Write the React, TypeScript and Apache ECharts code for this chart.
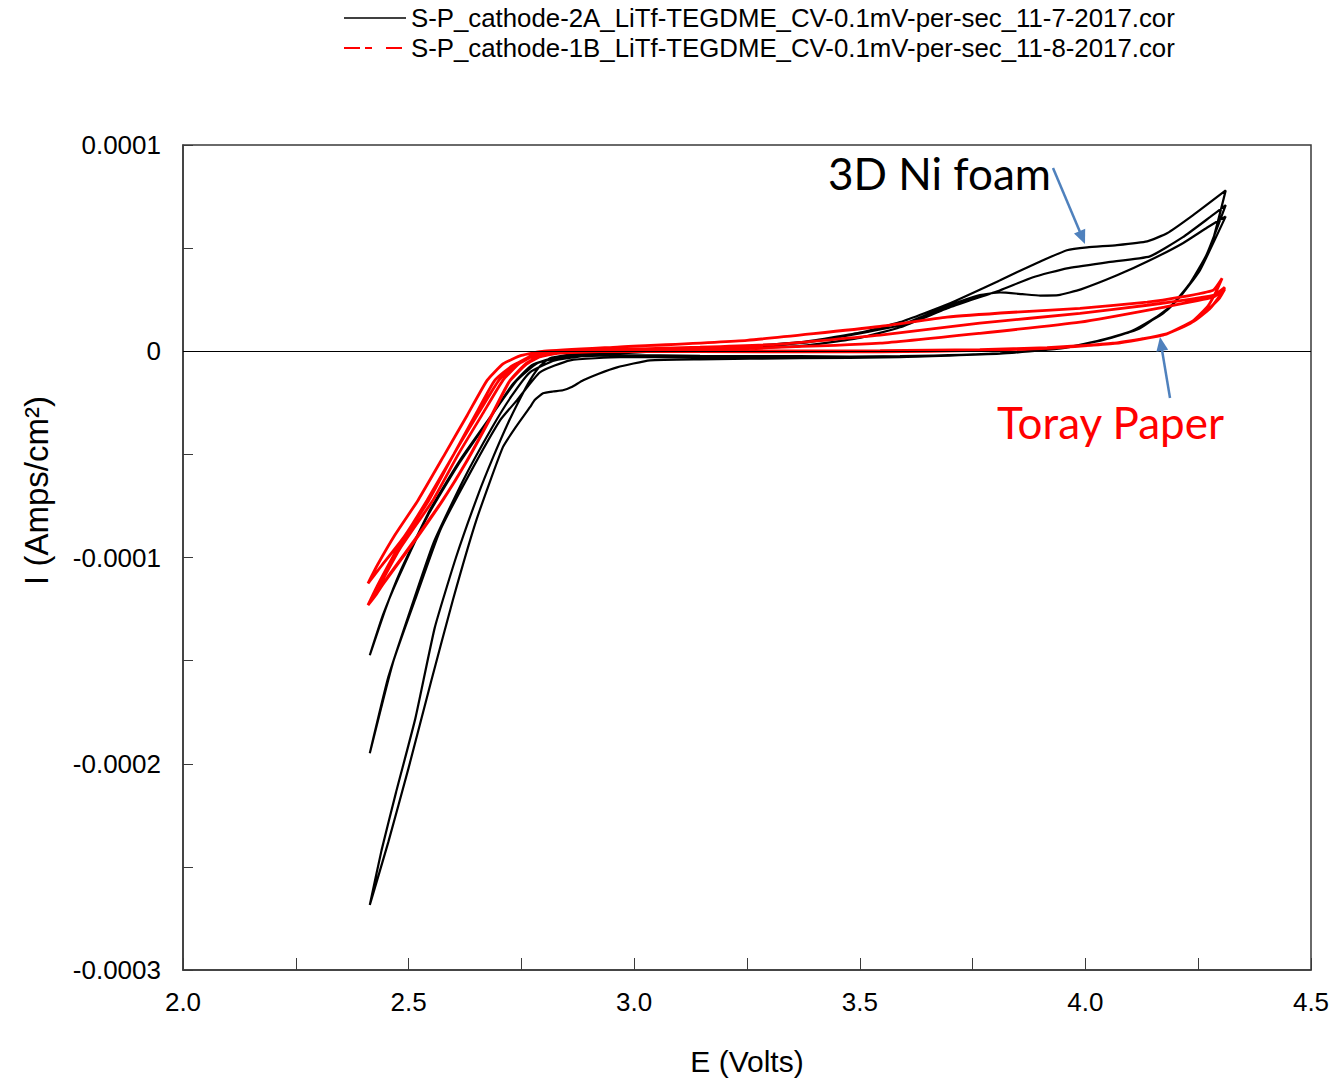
import React, { useEffect, useRef } from 'react';
import * as echarts from 'echarts';

// Axis ticks
const X_MIN = 2.0;
const X_MAX = 4.5;
const X_TICK = 0.25;
const Y_MIN = -0.0003;
const Y_MAX = 0.0001;
const Y_TICK = 0.00005;

const SERIES_NI = 'S-P_cathode-2A_LiTf-TEGDME_CV-0.1mV-per-sec_11-7-2017.cor';
const SERIES_TORAY = 'S-P_cathode-1B_LiTf-TEGDME_CV-0.1mV-per-sec_11-8-2017.cor';

// ---- 3D Ni foam (black) : [E (V), I (A/cm2)] ----
const niCycle1Cathodic = [
  [4.311, 0.654e-4], [4.254, 0.393e-4], [4.216, 0.281e-4], [4.181, 0.199e-4], [4.106, 0.102e-4],
  [4.032, 0.053e-4], [3.959, 0.019e-4], [3.811, -0.010e-4], [3.589, -0.029e-4], [3.367, -0.034e-4],
  [3.146, -0.039e-4], [3.035, -0.044e-4], [2.962, -0.078e-4], [2.920, -0.110e-4], [2.887, -0.141e-4],
  [2.860, -0.175e-4], [2.842, -0.189e-4], [2.820, -0.195e-4], [2.798, -0.204e-4], [2.780, -0.235e-4],
  [2.769, -0.271e-4], [2.740, -0.360e-4], [2.709, -0.465e-4], [2.650, -0.820e-4], [2.598, -1.207e-4],
  [2.550, -1.600e-4], [2.500, -2.020e-4], [2.455, -2.380e-4], [2.414, -2.685e-4],
];
const niCycle1Anodic = [
  [2.414, -2.685e-4], [2.440, -2.420e-4], [2.472, -2.140e-4], [2.515, -1.780e-4], [2.558, -1.340e-4],
  [2.605, -1.000e-4], [2.655, -0.690e-4], [2.689, -0.505e-4], [2.720, -0.350e-4], [2.747, -0.230e-4],
  [2.769, -0.141e-4], [2.791, -0.073e-4], [2.813, -0.034e-4], [2.880, -0.010e-4], [2.969, 0],
  [3.146, 0.010e-4], [3.367, 0.025e-4], [3.500, 0.065e-4], [3.589, 0.116e-4], [3.700, 0.213e-4],
  [3.811, 0.296e-4], [3.884, 0.359e-4], [3.959, 0.402e-4], [4.048, 0.431e-4], [4.143, 0.460e-4],
  [4.216, 0.553e-4], [4.276, 0.650e-4], [4.311, 0.708e-4],
];
const niCycle2Cathodic = [
  [4.311, 0.708e-4], [4.269, 0.470e-4], [4.232, 0.330e-4], [4.190, 0.220e-4], [4.120, 0.110e-4],
  [4.040, 0.055e-4], [3.959, 0.020e-4], [3.811, -0.010e-4], [3.589, -0.024e-4], [3.367, -0.029e-4],
  [3.146, -0.029e-4], [2.969, -0.029e-4], [2.858, -0.044e-4], [2.791, -0.102e-4], [2.740, -0.238e-4],
  [2.703, -0.334e-4], [2.636, -0.591e-4], [2.570, -0.868e-4], [2.514, -1.207e-4], [2.465, -1.512e-4],
  [2.414, -1.949e-4],
];
const niCycle2Anodic = [
  [2.414, -1.949e-4], [2.455, -1.580e-4], [2.500, -1.280e-4], [2.555, -0.930e-4], [2.620, -0.630e-4],
  [2.685, -0.370e-4], [2.728, -0.218e-4], [2.769, -0.102e-4], [2.824, -0.044e-4], [2.924, -0.015e-4],
  [3.146, 0.010e-4], [3.367, 0.044e-4], [3.500, 0.090e-4], [3.589, 0.141e-4], [3.700, 0.233e-4],
  [3.811, 0.344e-4], [3.848, 0.383e-4], [3.906, 0.441e-4], [3.959, 0.490e-4], [4.004, 0.504e-4],
  [4.070, 0.515e-4], [4.137, 0.533e-4], [4.181, 0.572e-4], [4.238, 0.659e-4], [4.311, 0.780e-4],
];
const niCycle3Cathodic = [
  [4.311, 0.780e-4], [4.280, 0.520e-4], [4.250, 0.380e-4], [4.210, 0.265e-4], [4.170, 0.180e-4],
  [4.100, 0.095e-4], [4.020, 0.045e-4], [3.940, 0.012e-4], [3.811, -0.012e-4], [3.589, -0.027e-4],
  [3.367, -0.024e-4], [3.146, -0.022e-4], [2.969, -0.019e-4], [2.842, -0.029e-4], [2.785, -0.058e-4],
  [2.740, -0.141e-4], [2.687, -0.301e-4], [2.614, -0.528e-4], [2.547, -0.771e-4], [2.481, -1.071e-4],
  [2.448, -1.255e-4], [2.414, -1.474e-4],
];
const niCycle3Anodic = [
  [2.414, -1.474e-4], [2.443, -1.280e-4], [2.477, -1.100e-4], [2.543, -0.795e-4], [2.609, -0.553e-4],
  [2.680, -0.325e-4], [2.729, -0.165e-4], [2.773, -0.068e-4], [2.836, -0.024e-4], [2.969, 0],
  [3.146, 0.012e-4], [3.367, 0.039e-4], [3.500, 0.087e-4], [3.589, 0.126e-4], [3.700, 0.223e-4],
  [3.766, 0.272e-4], [3.811, 0.285e-4], [3.860, 0.277e-4], [3.900, 0.270e-4], [3.940, 0.272e-4],
  [3.990, 0.300e-4], [4.070, 0.368e-4], [4.143, 0.441e-4], [4.216, 0.524e-4], [4.270, 0.600e-4],
  [4.311, 0.654e-4],
];

// ---- Toray paper (red) ----
const torayCycle1Cathodic = [
  [4.309, 0.301e-4], [4.298, 0.260e-4], [4.283, 0.225e-4], [4.269, 0.195e-4], [4.232, 0.134e-4],
  [4.172, 0.078e-4], [4.061, 0.039e-4], [3.915, 0.015e-4], [3.766, 0.005e-4], [3.545, 0.001e-4],
  [3.146, 0], [2.924, -0.002e-4], [2.820, -0.010e-4], [2.770, -0.030e-4], [2.730, -0.070e-4],
  [2.691, -0.141e-4], [2.650, -0.300e-4], [2.600, -0.500e-4], [2.541, -0.722e-4], [2.490, -0.900e-4],
  [2.440, -1.040e-4], [2.410, -1.125e-4],
];
const torayCycle1Anodic = [
  [2.410, -1.125e-4], [2.430, -1.040e-4], [2.470, -0.890e-4], [2.521, -0.722e-4], [2.580, -0.500e-4],
  [2.630, -0.310e-4], [2.674, -0.141e-4], [2.710, -0.060e-4], [2.750, -0.020e-4], [2.800, 0],
  [2.953, 0.019e-4], [3.250, 0.053e-4], [3.545, 0.120e-4], [3.693, 0.165e-4], [3.840, 0.189e-4],
  [3.988, 0.208e-4], [4.137, 0.238e-4], [4.210, 0.262e-4], [4.283, 0.296e-4], [4.303, 0.354e-4],
];
const torayCycle2Cathodic = [
  [4.303, 0.354e-4], [4.290, 0.290e-4], [4.272, 0.220e-4], [4.240, 0.150e-4], [4.180, 0.085e-4],
  [4.070, 0.040e-4], [3.915, 0.018e-4], [3.766, 0.008e-4], [3.545, 0.003e-4], [3.146, 0.001e-4],
  [2.924, 0], [2.830, -0.008e-4], [2.790, -0.025e-4], [2.760, -0.060e-4], [2.725, -0.141e-4],
  [2.680, -0.330e-4], [2.630, -0.530e-4], [2.576, -0.722e-4], [2.520, -0.900e-4], [2.460, -1.080e-4],
  [2.430, -1.170e-4], [2.410, -1.231e-4],
];
const torayCycle2Anodic = [
  [2.410, -1.231e-4], [2.432, -1.150e-4], [2.480, -0.960e-4], [2.554, -0.722e-4], [2.610, -0.500e-4],
  [2.665, -0.300e-4], [2.709, -0.141e-4], [2.745, -0.060e-4], [2.780, -0.020e-4], [2.820, -0.005e-4],
  [2.953, 0.008e-4], [3.146, 0.020e-4], [3.323, 0.035e-4], [3.545, 0.078e-4], [3.766, 0.136e-4],
  [3.988, 0.184e-4], [4.137, 0.223e-4], [4.283, 0.271e-4], [4.309, 0.310e-4],
];
const torayCycle3Cathodic = [
  [4.309, 0.310e-4], [4.295, 0.260e-4], [4.275, 0.205e-4], [4.240, 0.145e-4], [4.175, 0.080e-4],
  [4.065, 0.038e-4], [3.915, 0.014e-4], [3.766, 0.004e-4], [3.545, -0.003e-4], [3.146, -0.002e-4],
  [2.924, -0.002e-4], [2.830, -0.010e-4], [2.790, -0.028e-4], [2.760, -0.065e-4], [2.722, -0.150e-4],
  [2.678, -0.335e-4], [2.628, -0.535e-4], [2.573, -0.730e-4], [2.515, -0.910e-4], [2.455, -1.090e-4],
  [2.428, -1.180e-4], [2.410, -1.231e-4],
];
const torayCycle3Anodic = [
  [2.410, -1.231e-4], [2.430, -1.140e-4], [2.475, -0.960e-4], [2.545, -0.722e-4], [2.600, -0.500e-4],
  [2.655, -0.300e-4], [2.700, -0.141e-4], [2.740, -0.060e-4], [2.775, -0.020e-4], [2.820, -0.005e-4],
  [3.013, 0.005e-4], [3.257, 0.015e-4], [3.545, 0.039e-4], [3.766, 0.087e-4], [3.988, 0.141e-4],
  [4.172, 0.213e-4], [4.283, 0.262e-4], [4.309, 0.301e-4],
];

const joinSegments = (segs: number[][][]) =>
  segs.reduce((acc, s, i) => acc.concat(i === 0 ? s : s.slice(1)), [] as number[][]);

const niFoamTrace = joinSegments([
  niCycle1Cathodic, niCycle1Anodic, niCycle2Cathodic, niCycle2Anodic, niCycle3Cathodic, niCycle3Anodic,
]);
const torayTrace = joinSegments([
  torayCycle1Cathodic, torayCycle1Anodic, torayCycle2Cathodic, torayCycle2Anodic, torayCycle3Cathodic, torayCycle3Anodic,
]);

const AXIS_COLOR = '#3a3a3a';
const ARROW_COLOR = '#4f81bd';
const FONT = '"Liberation Sans", Arial, sans-serif';

export default function App() {
  const ref = useRef<HTMLDivElement>(null);

  useEffect(() => {
    if (!ref.current) return;
    const chart = echarts.init(ref.current, null, { renderer: 'svg' });
    const option: any = {
      animation: false,
      backgroundColor: '#ffffff',
      textStyle: { fontFamily: FONT },
      grid: {
        left: 183, right: 27, top: 145, bottom: 114,
        show: true, borderColor: AXIS_COLOR, borderWidth: 1.5, backgroundColor: 'transparent',
      },
      legend: {
        orient: 'vertical',
        left: 338,
        top: 0,
        itemWidth: 62,
        itemHeight: 14,
        itemGap: 4,
        itemStyle: { opacity: 0 },
        textStyle: { fontSize: 25.8, color: '#000', fontFamily: FONT, lineHeight: 25 },
        data: [
          { name: SERIES_NI, lineStyle: { width: 1.5 } },
          { name: SERIES_TORAY, lineStyle: { type: [16, 5, 7, 14], width: 2 } },
        ],
      },
      xAxis: {
        type: 'value',
        min: X_MIN,
        max: X_MAX,
        interval: X_TICK,
        axisLine: { show: true, onZero: false, lineStyle: { color: AXIS_COLOR, width: 1.5 } },
        axisTick: { show: true, inside: true, length: 12, lineStyle: { color: AXIS_COLOR, width: 1 } },
        splitLine: { show: false },
        axisLabel: {
          fontSize: 26,
          color: '#000',
          margin: 19,
          fontFamily: FONT,
          formatter: (v: number) => (Math.round(v / X_TICK) % 2 === 0 ? v.toFixed(1) : ''),
        },
        name: 'E (Volts)',
        nameLocation: 'middle',
        nameGap: 76,
        nameTextStyle: { fontSize: 30, color: '#000', fontFamily: FONT },
      },
      yAxis: {
        type: 'value',
        min: Y_MIN,
        max: Y_MAX,
        interval: Y_TICK,
        axisLine: { show: true, onZero: false, lineStyle: { color: AXIS_COLOR, width: 1.5 } },
        axisTick: { show: true, inside: true, length: 10, lineStyle: { color: AXIS_COLOR, width: 1 } },
        splitLine: { show: false },
        axisLabel: {
          fontSize: 26,
          color: '#000',
          margin: 22,
          fontFamily: FONT,
          formatter: (v: number) => {
            const k = Math.round(v / Y_TICK);
            if (k % 2 !== 0) return '';
            if (k === 0) return '0';
            return (k * Y_TICK).toFixed(4);
          },
        },
        name: 'I (Amps/cm²)',
        nameLocation: 'middle',
        nameGap: 130,
        nameTextStyle: { fontSize: 33, color: '#000', fontFamily: FONT, padding: [0, 0, 0, 134] },
      },
      series: [
        {
          name: SERIES_NI,
          type: 'line',
          data: niFoamTrace,
          showSymbol: false,
          symbol: 'none',
          smooth: 0.15,
          lineStyle: { color: '#000', width: 2.2 },
          itemStyle: { color: '#000' },
          z: 2,
          markLine: {
            silent: true,
            symbol: 'none',
            label: { show: false },
            lineStyle: { color: '#000', width: 1, type: 'solid' },
            data: [{ yAxis: 0 }],
          },
        },
        {
          name: SERIES_TORAY,
          type: 'line',
          data: torayTrace,
          showSymbol: false,
          symbol: 'none',
          smooth: 0.15,
          lineStyle: { color: '#ff0000', width: 2.8 },
          itemStyle: { color: '#ff0000' },
          z: 3,
        },
      ],
      graphic: [
        {
          type: 'text', x: 828, y: 173, z: 10,
          style: {
            text: '3D Ni foam', fontSize: 44, fontFamily: 'Lato, "Open Sans", sans-serif', fill: '#000',
            align: 'left', verticalAlign: 'middle', textAlign: 'left', textVerticalAlign: 'middle',
          },
        },
        {
          type: 'text', x: 997, y: 422, z: 10,
          style: {
            text: 'Toray Paper', fontSize: 44, fontFamily: 'Lato, "Open Sans", sans-serif', fill: '#ff0000',
            align: 'left', verticalAlign: 'middle', textAlign: 'left', textVerticalAlign: 'middle',
          },
        },
        {
          type: 'line', z: 10,
          shape: { x1: 1053, y1: 168, x2: 1080, y2: 232 },
          style: { stroke: ARROW_COLOR, lineWidth: 2.5 },
        },
        {
          type: 'polygon', z: 10,
          shape: { points: [[1085, 244], [1074, 233.5], [1085.2, 228.8]] },
          style: { fill: ARROW_COLOR },
        },
        {
          type: 'line', z: 10,
          shape: { x1: 1170, y1: 398, x2: 1162, y2: 350 },
          style: { stroke: ARROW_COLOR, lineWidth: 2.5 },
        },
        {
          type: 'polygon', z: 10,
          shape: { points: [[1160, 337], [1168.2, 349.8], [1156.4, 351.8]] },
          style: { fill: ARROW_COLOR },
        },
      ],
    };
    chart.setOption(option);
    return () => chart.dispose();
  }, []);

  return (
    <div
      ref={ref}
      style={{ position: 'fixed', left: 0, top: 0, width: 1338, height: 1084, background: '#fff' }}
    />
  );
}
